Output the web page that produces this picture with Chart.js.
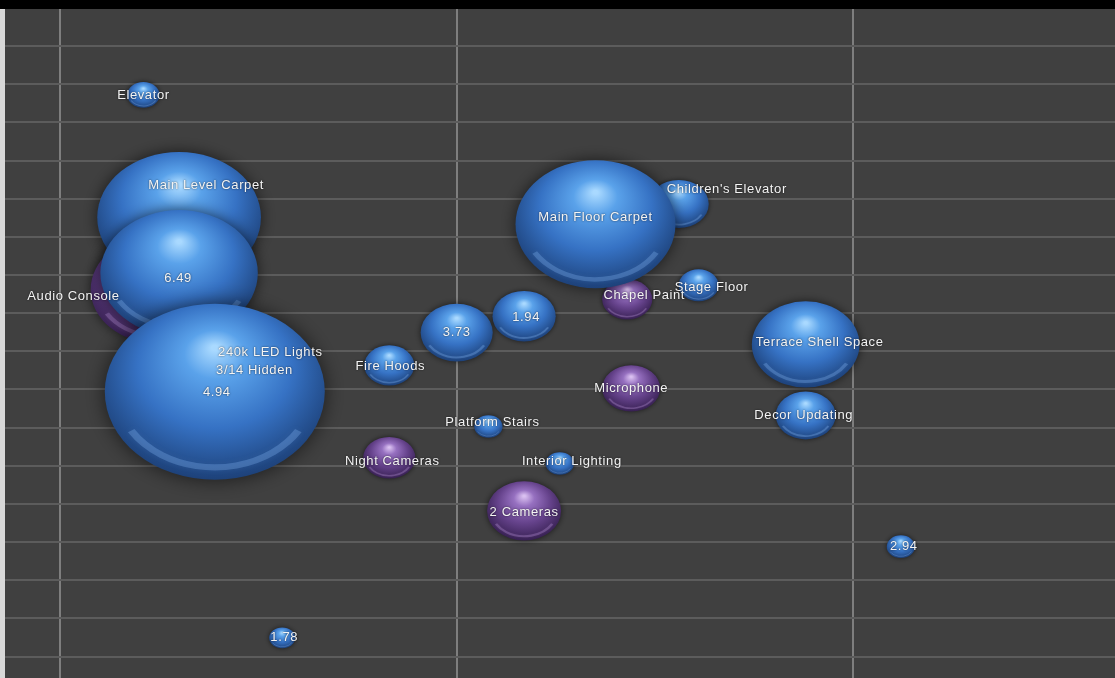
<!DOCTYPE html>
<html>
<head>
<meta charset="utf-8">
<title>Project bubbles</title>
<script src="https://cdn.jsdelivr.net/npm/chart.js@4.4.1/dist/chart.umd.min.js"></script>
<style>
    html, body { margin: 0; padding: 0; background: #000; overflow: hidden; }
    #wrap { position: relative; width: 1115px; height: 678px; }
</style>
</head>
<body>
<div id="wrap"><canvas id="bubbleChart"></canvas></div>
<script>
// Gridline values on each axis (no tick labels are shown in the picture)
const xGridValues = [0, 1, 2];
const yGridValues = [0, 1, 2, 3, 4, 5, 6, 7, 8, 9, 10, 11, 12, 13, 14, 15, 16];

// Purple series (drawn first, sits behind the blue one)
const purpleNames = ["Audio Console", "Chapel Paint", "Microphone", "Night Cameras", "2 Cameras"];
const purpleX     = [0.248, 1.43, 1.44, 0.83, 1.17];
const purpleY     = [9.62, 9.36, 7.03, 5.21, 3.82];
const purpleSize  = [46, 6.3, 8.4, 6.8, 13.7];

// Blue series
const blueNames = ["Elevator", "240k LED Lights", "3/14 Hidden", "Main Level Carpet", "6.49", "4.94",
    "Children's Elevator", "Main Floor Carpet", "3.73", "1.94", "Fire Hoods", "Stage Floor",
    "Terrace Shell Space", "Decor Updating", "Platform Stairs", "Interior Lighting", "2.94", "1.78"];
const blueX    = [0.21, 0.53, 0.49, 0.30, 0.30, 0.39, 1.56, 1.35, 1.00, 1.17, 0.83, 1.61,
    1.88, 1.88, 1.08, 1.26, 2.12, 0.56];
const blueY    = [14.72, 7.97, 7.49, 11.51, 10.05, 6.94, 11.86, 11.33, 8.49, 8.92, 7.63, 9.73,
    8.18, 6.32, 6.03, 5.06, 2.88, 0.49];
const blueSize = [2.6, 4, 4, 67, 62, 121, 9, 64, 13, 10, 6.3, 4, 29, 9, 2, 2, 2, 1.7];

// Label nudges in pixels (where the original put the text off-centre)
const purpleLabelShift = [[-85, 7], [17, -4], [0, 0], [3, 4], [0, 2]];
const blueLabelShift = [[0, 1], [0, 0], [0, 0], [27, -32], [-1, 5], [2, 1], [48, -15], [0, -7],
    [0, 0], [2, 1], [1, 1], [13, 2], [14, -2], [-2, 0], [4, -4], [12, -2], [3, 0], [2, 0]];

const squish = 0.8;   // the original picture is stretched wide, so spheres look like ellipses

const blueShade   = { hi: '#a9d9ff', light: '#5aa2ea', mid: '#3672c4', dark: '#1d4179', rim: 'rgba(140,190,250,0.28)' };
const purpleShade = { hi: '#d9bff0', light: '#9670c0', mid: '#66438c', dark: '#372052', rim: 'rgba(200,160,235,0.28)' };

function buildPoints(xs, ys, sizes) {
    return xs.map((x, i) => ({ x: x, y: ys[i], r: 10 * Math.sqrt(sizes[i]) }));
}

function drawSphere(ctx, x, y, r, c) {
    ctx.save();
    ctx.shadowColor = 'rgba(0, 0, 0, 0.6)';
    ctx.shadowBlur = Math.max(5, r * 0.18);
    ctx.translate(x, y);
    ctx.scale(1, squish);
    const g = ctx.createRadialGradient(0, -r * 0.5, r * 0.03, 0, -r * 0.15, r * 1.15);
    g.addColorStop(0, c.hi);
    g.addColorStop(0.22, c.light);
    g.addColorStop(0.6, c.mid);
    g.addColorStop(1, c.dark);
    ctx.fillStyle = g;
    ctx.beginPath();
    ctx.arc(0, 0, r, 0, Math.PI * 2);
    ctx.fill();

    // soft light reflection along the bottom edge
    ctx.shadowColor = c.rim;
    ctx.shadowBlur = Math.max(2, r * 0.06);
    ctx.strokeStyle = c.rim;
    ctx.lineWidth = Math.max(1, r * 0.07);
    ctx.beginPath();
    ctx.arc(0, -r * 0.04, r * 0.9, Math.PI * 0.18, Math.PI * 0.82);
    ctx.stroke();
    ctx.restore();
}

const sphereLayer = {
    id: 'sphereLayer',
    beforeDraw(chart) {
        const { ctx, chartArea: a, width, height } = chart;
        ctx.save();
        ctx.fillStyle = '#d8d8d8';
        ctx.fillRect(0, 0, a.left, height);
        ctx.fillStyle = '#404040';
        ctx.fillRect(a.left, a.top, a.right - a.left, a.bottom - a.top);
        ctx.fillStyle = '#000';
        ctx.fillRect(0, 0, width, a.top);
        ctx.restore();
    },
    afterDatasetsDraw(chart) {
        const ctx = chart.ctx;
        const a = chart.chartArea;
        ctx.save();
        ctx.beginPath();
        ctx.rect(a.left, a.top, a.right - a.left, a.bottom - a.top);
        ctx.clip();

        chart.data.datasets.forEach((ds, di) => {
            chart.getDatasetMeta(di).data.forEach(pt => {
                drawSphere(ctx, pt.x, pt.y, pt.options.radius, ds.shade);
            });
        });

        ctx.font = '13px "Liberation Sans", Arial, sans-serif';
        ctx.letterSpacing = '0.6px';
        ctx.textAlign = 'center';
        ctx.textBaseline = 'middle';
        ctx.fillStyle = '#f4f4f4';
        ctx.shadowColor = 'rgba(0, 0, 0, 0.7)';
        ctx.shadowBlur = 2;
        chart.data.datasets.forEach((ds, di) => {
            chart.getDatasetMeta(di).data.forEach((pt, i) => {
                const shift = ds.labelShift[i];
                ctx.fillText(ds.names[i], pt.x + shift[0], pt.y + shift[1]);
            });
        });
        ctx.restore();
    }
};

const ctx = document.getElementById('bubbleChart').getContext('2d');
const bubbleChart = new Chart(ctx, {
    type: 'bubble',
    data: {
        datasets: [{
            label: 'Purple',
            data: buildPoints(purpleX, purpleY, purpleSize),
            names: purpleNames,
            labelShift: purpleLabelShift,
            shade: purpleShade,
            backgroundColor: 'rgba(0,0,0,0)',
            borderWidth: 0
        }, {
            label: 'Blue',
            data: buildPoints(blueX, blueY, blueSize),
            names: blueNames,
            labelShift: blueLabelShift,
            shade: blueShade,
            backgroundColor: 'rgba(0,0,0,0)',
            borderWidth: 0
        }]
    },
    options: {
        responsive: true,
        maintainAspectRatio: false,
        animation: false,
        events: [],
        layout: {
            autoPadding: false,
            padding: { left: 5, top: 9, right: 0, bottom: 0 }
        },
        plugins: {
            legend: { display: false },
            tooltip: { enabled: false }
        },
        scales: {
            x: {
                type: 'linear',
                min: -0.139,
                max: 2.66,
                afterBuildTicks: scale => { scale.ticks = xGridValues.map(v => ({ value: v })); },
                afterFit: scale => { scale.height = 0; },
                ticks: { display: false },
                border: { display: false },
                grid: { color: '#7e7e7e', lineWidth: 2, drawTicks: false }
            },
            y: {
                type: 'linear',
                min: -0.562,
                max: 16.971,
                afterBuildTicks: scale => { scale.ticks = yGridValues.map(v => ({ value: v })); },
                afterFit: scale => { scale.width = 0; },
                ticks: { display: false },
                border: { display: false },
                grid: { color: '#5c5c5c', lineWidth: 2, drawTicks: false }
            }
        }
    },
    plugins: [sphereLayer]
});
</script>
</body>
</html>
